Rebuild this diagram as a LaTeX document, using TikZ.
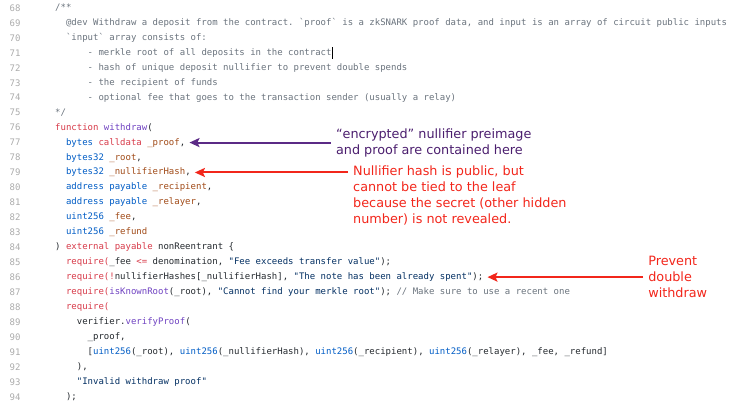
\documentclass[tikz,border=0pt]{standalone}
\usepackage{fontspec}
\setmonofont{DejaVu Sans Mono}
\newfontfamily\annofont{DejaVu Sans}
\usetikzlibrary{arrows.meta, positioning}

\definecolor{lnum}{HTML}{ABABAB}
\definecolor{comgray}{HTML}{6A737D}
\definecolor{plain}{HTML}{24292E}
\definecolor{kwred}{HTML}{D73A49}
\definecolor{tyblue}{HTML}{005CC5}
\definecolor{fnpurple}{HTML}{6F42C1}
\definecolor{parbrown}{HTML}{A04A17}
\definecolor{strnavy}{HTML}{032F62}
\definecolor{encpurple}{HTML}{4B1E6E}
\definecolor{arrpurple}{HTML}{5B2A86}
\definecolor{annored}{HTML}{F2261B}

\newcommand{\ckw}[1]{\textcolor{kwred}{#1}}
\newcommand{\cty}[1]{\textcolor{tyblue}{#1}}
\newcommand{\cfn}[1]{\textcolor{fnpurple}{#1}}
\newcommand{\cpar}[1]{\textcolor{parbrown}{#1}}
\newcommand{\cstr}[1]{\textcolor{strnavy}{#1}}
\newcommand{\ccom}[1]{\textcolor{comgray}{#1}}

\begin{document}
\begin{tikzpicture}[x=5.42pt, y=-14.95pt,
  lineno/.style={anchor=west, inner sep=0pt, font=\ttfamily\fontsize{9}{11}\selectfont, text=lnum},
  code/.style={anchor=west, inner xsep=4pt, inner ysep=1pt, xshift=-4pt, text height=7pt, text depth=2pt, font=\ttfamily\fontsize{9}{11}\selectfont, text=plain},
  anno/.style={anchor=west, inner xsep=5pt, align=left, font=\annofont\fontsize{12.8}{16}\selectfont},
  arrow/.style={line width=2pt, -{Stealth[length=10pt,width=9pt,inset=2pt]}}]
\useasboundingbox (-10.148,67.465) rectangle (126.38,94.756);
% Line numbers
\foreach \n in {68,...,94}
  \node[lineno] (n\n) at (-8.4,\n) {\n};
% Doc comment
\node[code, text=comgray] (l68) at (0,68) {/**};
\node[code, text=comgray] (l69) at (2,69) {@dev Withdraw a deposit from the contract. `proof` is a zkSNARK proof data, and input is an array of circuit public inputs};
\node[code, text=comgray] (l70) at (2,70) {`input` array consists of:};
\node[code, text=comgray] (l71) at (6,71) {- merkle root of all deposits in the contract};
\node[code, text=comgray] (l72) at (6,72) {- hash of unique deposit nullifier to prevent double spends};
\node[code, text=comgray] (l73) at (6,73) {- the recipient of funds};
\node[code, text=comgray] (l74) at (6,74) {- optional fee that goes to the transaction sender (usually a relay)};
\node[code, text=comgray] (l75) at (0,75) {*/};
\draw[line width=0.7pt] ([xshift=-3.5pt]l71.north east) -- ([xshift=-3.5pt]l71.south east);
% Function
\node[code] (l76) at (0,76) {\ckw{function} \cfn{withdraw}(};
\node[code] (l77) at (2,77) {\cty{bytes} \ckw{calldata} \cpar{\_proof},};
\node[code] (l78) at (2,78) {\cty{bytes32} \cpar{\_root},};
\node[code] (l79) at (2,79) {\cty{bytes32} \cpar{\_nullifierHash},};
\node[code] (l80) at (2,80) {\cty{address payable} \cpar{\_recipient},};
\node[code] (l81) at (2,81) {\cty{address payable} \cpar{\_relayer},};
\node[code] (l82) at (2,82) {\cty{uint256} \cpar{\_fee},};
\node[code] (l83) at (2,83) {\cty{uint256} \cpar{\_refund}};
\node[code] (l84) at (0,84) {) \ckw{external payable} nonReentrant \{};
\node[code] (l85) at (2,85) {\ckw{require(}\_fee \ckw{<=} denomination, \cstr{"Fee exceeds transfer value"});};
\node[code] (l86) at (2,86) {\ckw{require(!}nullifierHashes[\_nullifierHash], \cstr{"The note has been already spent"});};
\node[code] (l87) at (2,87) {\ckw{require(}\cfn{isKnownRoot}(\_root), \cstr{"Cannot find your merkle root"}); \ccom{// Make sure to use a recent one}};
\node[code] (l88) at (2,88) {\ckw{require(}};
\node[code] (l89) at (4,89) {verifier.\cfn{verifyProof}(};
\node[code] (l90) at (6,90) {\_proof,};
\node[code] (l91) at (6,91) {[\cty{uint256}(\_root), \cty{uint256}(\_nullifierHash), \cty{uint256}(\_recipient), \cty{uint256}(\_relayer), \_fee, \_refund]};
\node[code] (l92) at (4,92) {),};
\node[code] (l93) at (4,93) {\cstr{"Invalid withdraw proof"}};
\node[code] (l94) at (2,94) {);};
% Annotations
\node[anno, text=encpurple] (enc) at (50.9,77) {“encrypted” nullifier preimage\\and proof are contained here};
\node[anno, text=annored] (nul) at (54.06,80.51) {Nullifier hash is public, but\\cannot be tied to the leaf\\because the secret (other hidden\\number) is not revealed.};
\node[anno, text=annored] (prev) at (108.5,86) {Prevent\\double\\withdraw};
\draw[arrow, arrpurple] (enc.west |- l77) -- (l77.east);
\draw[arrow, annored] (nul.west |- l79) -- (l79.east);
\draw[arrow, annored] (prev.west |- l86) -- (l86.east);
\end{tikzpicture}
\end{document}
